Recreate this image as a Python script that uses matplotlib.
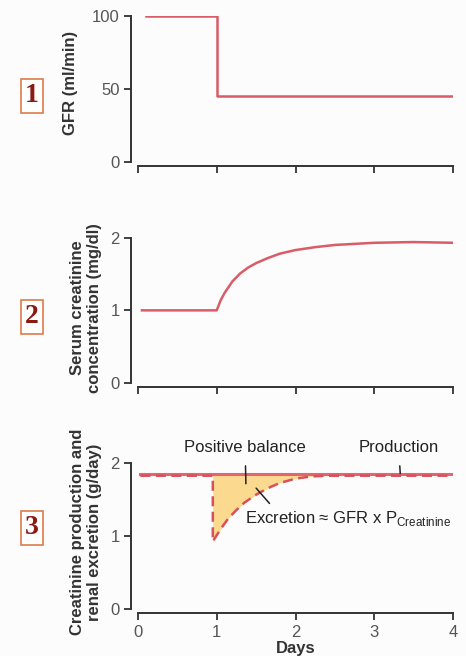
import matplotlib
matplotlib.use("Agg")
import matplotlib.pyplot as plt

# ---- data ----
gfr_days = [0.1, 1.0, 1.0, 4.0]
gfr_vals = [100, 100, 45, 45]

creat_days = [0.05, 1.0, 1.05, 1.1, 1.2, 1.3, 1.4, 1.5, 1.65, 1.8, 2.0, 2.25, 2.5, 3.0, 3.5, 4.0]
creat_vals = [1.0, 1.0, 1.14, 1.24, 1.40, 1.51, 1.59, 1.65, 1.72, 1.78, 1.83, 1.87, 1.90, 1.93, 1.94, 1.93]

prod_days = [0.03, 4.0]
prod_vals = [1.86, 1.86]

excr_days = [0.03, 0.95, 0.95, 1.05, 1.15, 1.25, 1.35, 1.5, 1.65, 1.8, 2.0, 2.2, 2.4, 4.0]
excr_vals = [1.83, 1.83, 0.93, 1.10, 1.25, 1.36, 1.46, 1.57, 1.66, 1.73, 1.79, 1.82, 1.83, 1.83]

fill_days = [0.95, 1.05, 1.15, 1.25, 1.35, 1.5, 1.65, 1.8, 2.0, 2.2, 2.4]
fill_low = [0.93, 1.10, 1.25, 1.36, 1.46, 1.57, 1.66, 1.73, 1.79, 1.82, 1.83]

x_ticks = [0, 1, 2, 3, 4]
gfr_ticks = [0, 50, 100]
creat_ticks = [0, 1, 2]
prod_ticks = [0, 1, 2]

W, H = 466, 656
fig = plt.figure(figsize=(W / 100, H / 100), dpi=100, facecolor="#fcfcfc")
plt.rcParams["font.family"] = ["Liberation Sans", "DejaVu Sans"]

LINE = "#d95c66"
AX = "#333333"
TICKC = "#555555"


def make_ax(y0pix, ytoppix):
    left, right = 138 / W, 453 / W
    bottom = 1 - y0pix / H
    top = 1 - ytoppix / H
    ax = fig.add_axes([left, bottom, right - left, top - bottom])
    ax.set_facecolor("none")
    for s in ["top", "right"]:
        ax.spines[s].set_visible(False)
    ax.spines["left"].set_position(("outward", 5))
    ax.spines["bottom"].set_position(("outward", 3))
    for s in ["left", "bottom"]:
        ax.spines[s].set_color(AX)
        ax.spines[s].set_linewidth(1.4)
    ax.set_xlim(0, 4)
    ax.set_xticks(x_ticks)
    ax.tick_params(axis="both", colors=AX, labelcolor=TICKC, labelsize=12,
                   length=5, width=1.3, direction="out", pad=3)
    return ax


# Panel 1
ax1 = make_ax(162, 16)
ax1.plot(gfr_days, gfr_vals, color=LINE, lw=1.8)
ax1.set_ylim(0, 100)
ax1.set_yticks(gfr_ticks)
ax1.set_xticklabels([])

# Panel 2
ax2 = make_ax(383, 237.7)
ax2.plot(creat_days, creat_vals, color=LINE, lw=1.8)
ax2.set_ylim(0, 2)
ax2.set_yticks(creat_ticks)
ax2.set_xticklabels([])

# Panel 3
ax3 = make_ax(609.3, 463.3)
ax3.fill_between(fill_days, fill_low, [prod_vals[0]] * len(fill_days),
                 color="#fbd98e", lw=0)
ax3.plot(prod_days, prod_vals, color="#e26670", lw=2.2)
ax3.plot(excr_days, excr_vals, color="#d9505a", lw=1.8, dashes=(4, 2.2))
ax3.set_ylim(0, 2)
ax3.set_yticks(prod_ticks)
ax3.set_xlabel("Days", fontsize=12, fontweight="bold", color="#333333", labelpad=1)

ann_kw = dict(fontsize=12, color="#222222", annotation_clip=False)
ax3.annotate("Positive balance", xy=(1.37, 1.72), xytext=(1.36, 2.22),
             ha="center", va="center",
             arrowprops=dict(arrowstyle="-", color="#222222", lw=1.1,
                             shrinkA=6, shrinkB=0), **ann_kw)
ax3.annotate("Production", xy=(3.33, 1.86), xytext=(3.31, 2.22),
             ha="center", va="center",
             arrowprops=dict(arrowstyle="-", color="#222222", lw=1.1,
                             shrinkA=6, shrinkB=0), **ann_kw)
ax3.annotate("Excretion ≈ GFR x P$_{\\mathregular{Creatinine}}$",
             xy=(1.50, 1.66), xytext=(1.36, 1.25),
             ha="left", va="center", **ann_kw)
ax3.annotate("", xy=(1.50, 1.66), xytext=(1.67, 1.45),
             arrowprops=dict(arrowstyle="-", color="#222222", lw=1.1,
                             shrinkA=0, shrinkB=0))

# Y labels
ylab_kw = dict(rotation=90, ha="center", va="center", fontsize=12,
               fontweight="bold", color="#333333", linespacing=1.1)
fig.text(70 / W, 1 - 83 / H, "GFR (ml/min)", **ylab_kw)
fig.text(86 / W, 1 - 308 / H, "Serum creatinine\nconcentration (mg/dl)", **ylab_kw)
fig.text(86 / W, 1 - 532 / H, "Creatinine production and\nrenal excretion (g/day)", **ylab_kw)

# Numbered boxes
box_kw = dict(ha="center", va="center", fontsize=20, fontweight="bold",
              color="#8b1a10", family=["Liberation Serif", "DejaVu Serif"],
              bbox=dict(boxstyle="square,pad=0.16", fc="white", ec="#e07b4a", lw=1.2))
fig.text(32 / W, 1 - 96 / H, "1", **box_kw)
fig.text(32 / W, 1 - 317 / H, "2", **box_kw)
fig.text(32 / W, 1 - 528 / H, "3", **box_kw)

fig.savefig("out.png", dpi=100, facecolor=fig.get_facecolor())
